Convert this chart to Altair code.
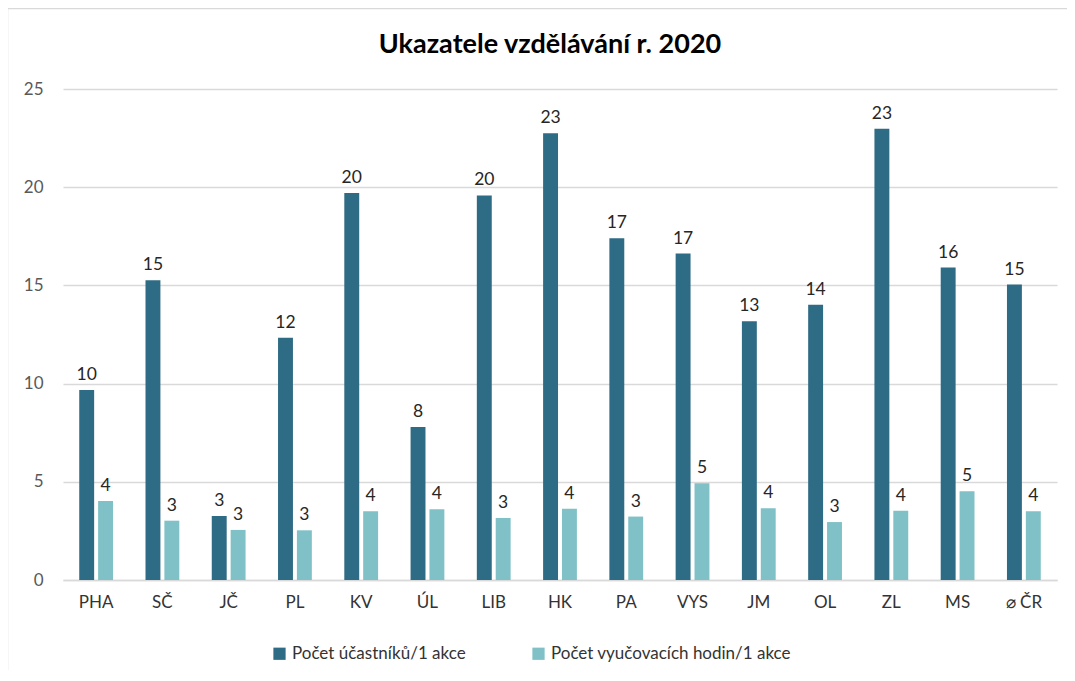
import altair as alt
import pandas as pd

categories = ["PHA", "SČ", "JČ", "PL", "KV", "ÚL", "LIB", "HK", "PA", "VYS", "JM", "OL", "ZL", "MS", "⌀ ČR"]
series_names = ["Počet účastníků/1 akce", "Počet vyučovacích hodin/1 akce"]
participants = [9.68, 15.26, 3.26, 12.33, 19.71, 7.79, 19.58, 22.75, 17.40, 16.62, 13.17, 14.02, 22.97, 15.91, 15.04]
hours = [4.02, 3.02, 2.55, 2.53, 3.50, 3.60, 3.16, 3.63, 3.23, 4.92, 3.65, 2.95, 3.52, 4.52, 3.50]
colors = ["#2E6B85", "#7FC1C7"]
y_ticks = [0, 5, 10, 15, 20, 25]

rows = []
for c, a, b in zip(categories, participants, hours):
    rows.append({"region": c, "series": series_names[0], "value": a})
    rows.append({"region": c, "series": series_names[1], "value": b})
df = pd.DataFrame(rows)

FONT = "Lato"
W, H = 994, 491

x_enc = alt.X("region:N", sort=categories, title=None,
              scale=alt.Scale(paddingInner=0.49, paddingOuter=0.245),
              axis=alt.Axis(labelAngle=0, ticks=False, grid=False, domainColor="#d9d9d9", domainWidth=1.5,
                            labelPadding=14, labelFontSize=17, labelColor="#333333", labelFont=FONT))
xo_enc = alt.XOffset("series:N", sort=series_names,
                     scale=alt.Scale(paddingInner=0.21, paddingOuter=0))
y_enc = alt.Y("value:Q", title=None, scale=alt.Scale(domain=[0, 25], nice=False),
              axis=alt.Axis(values=y_ticks, domain=False, ticks=False, gridColor="#d9d9d9",
                            gridWidth=1.3, labelPadding=20, labelFontSize=17,
                            labelColor="#595959", labelFont=FONT))

base = alt.Chart(df)

bars = base.mark_bar().encode(
    x=x_enc, xOffset=xo_enc, y=y_enc,
    color=alt.Color("series:N", sort=series_names,
                    scale=alt.Scale(domain=series_names, range=colors),
                    legend=alt.Legend(title=None, orient="none", legendX=208, legendY=556,
                                      direction="horizontal", symbolType="square",
                                      symbolSize=150, symbolStrokeWidth=0, columnPadding=64,
                                      labelFontSize=17, labelColor="#333333", labelFont=FONT,
                                      labelLimit=0, symbolOffset=0, labelOffset=4)),
)

labels = base.mark_text(baseline="bottom", dy=-6, fontSize=17.5, font=FONT, color="#262626").encode(
    x=x_enc, xOffset=xo_enc, y=y_enc,
    text=alt.Text("value:Q", format=".0f"),
)

frame_data = alt.Data(values=[{"k": 1}])
vline = alt.Chart(frame_data).mark_rule(color="#d9d9d9", strokeWidth=1.5).encode(
    x=alt.value(-55.5), y=alt.value(-81), y2=alt.value(H + 120))
hline = alt.Chart(frame_data).mark_rule(color="#d9d9d9", strokeWidth=1.5).encode(
    x=alt.value(-55.5), x2=alt.value(W + 40), y=alt.value(-80.5))

chart = alt.layer(bars, labels, vline, hline).properties(
    width=W, height=H,
    background="white",
    title=alt.Title("Ukazatele vzdělávání r. 2020", font=FONT, fontSize=27, fontWeight="bold",
                    color="#000000", anchor="middle", dx=-10, offset=0, dy=52),
    autosize=alt.AutoSizeParams(type="none"),
    padding={"left": 55, "top": 81, "right": 10, "bottom": 90},
).configure_view(strokeWidth=0, stroke="transparent")

chart.save("out.html", embed_options={"renderer": "svg", "actions": False})
